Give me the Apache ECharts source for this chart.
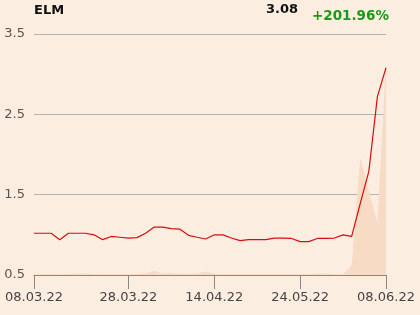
<!DOCTYPE html>
<html><head><meta charset="utf-8">
<script src="https://cdn.jsdelivr.net/npm/echarts@6/dist/echarts.min.js"></script>
<style>html,body{margin:0;padding:0;background:#fcede1}#c{width:420px;height:315px}</style>
</head><body><div id="c"></div>
<script>
var tickLabels = {0:'08.03.22', 11:'28.03.22', 21:'14.04.22', 31:'24.05.22', 41:'08.06.22'};
var categories = [];
for (var i = 0; i < 42; i++) categories.push(tickLabels[i] || ('p' + i));
var prices = [1.02,1.02,1.02,0.94,1.02,1.02,1.02,1.00,0.94,0.98,0.97,0.96,0.965,1.02,1.097,1.097,1.077,1.07,0.994,0.97,0.948,1.00,1.00,0.96,0.927,0.94,0.94,0.94,0.96,0.96,0.955,0.915,0.915,0.955,0.955,0.96,1.00,0.98,1.39,1.79,2.72,3.08];
var volumes = [0.3,0.3,0.3,0.3,0.4,0.6,0.6,0.4,0.3,0.3,0.3,0.3,0.4,0.6,1.8,0.6,0.8,0.5,0.5,0.6,1.5,0.5,0.3,0.3,0.3,0.3,0.3,0.3,0.3,0.3,0.3,0.3,0.3,0.6,0.6,0.4,0.2,4,48.5,35,21.6,89];
var chart = echarts.init(document.getElementById('c'));
var F = 'DejaVu Sans';
chart.setOption({
  backgroundColor: '#fcede1',
  animation: false,
  grid: {left: 34, right: 34, top: 34, bottom: 40},
  graphic: [
    {type:'text', left: 34, top: 4, style:{text:'ELM', font:'bold 13px "DejaVu Sans"', fill:'#111'}},
    {type:'text', right: 122, top: 3, style:{text:'3.08', font:'bold 13px "DejaVu Sans"', fill:'#111'}},
    {type:'text', left: 312, top: 9, style:{text:'+201.96%', font:'bold 13.5px "DejaVu Sans"', fill:'#1a9a1a'}}
  ],
  xAxis: {
    type: 'category', data: categories, boundaryGap: false,
    axisLine: {lineStyle: {color: '#888', width: 1}},
    axisTick: {length: 14, lineStyle: {color: '#888'}, interval: function(i){return tickLabels[i] !== undefined;}},
    axisLabel: {interval: function(i){return tickLabels[i] !== undefined;}, color: '#444', fontFamily: F, fontSize: 13, margin: 16,
      formatter: function(v){return v.charAt(0) === 'p' ? '' : v;}, showMinLabel: true, showMaxLabel: true},
    splitLine: {show: false}
  },
  yAxis: [{
    type: 'value', min: 0.5, max: 3.5, interval: 1,
    axisLine: {show: false}, axisTick: {show: false},
    axisLabel: {color: '#555', fontFamily: F, fontSize: 13, margin: 9},
    splitLine: {lineStyle: {color: '#b4b4b4', width: 1}}
  }, {
    type: 'value', min: 0, max: 100, show: false, splitLine: {show: false}
  }],
  series: [{
    type: 'line', yAxisIndex: 1, data: volumes, symbol: 'none',
    lineStyle: {width: 0}, areaStyle: {color: '#f8dbc5', opacity: 1}, z: 1
  }, {
    type: 'line', data: prices, symbol: 'none',
    lineStyle: {color: '#d40f0f', width: 1.2}, z: 3
  }]
});
</script></body></html>
